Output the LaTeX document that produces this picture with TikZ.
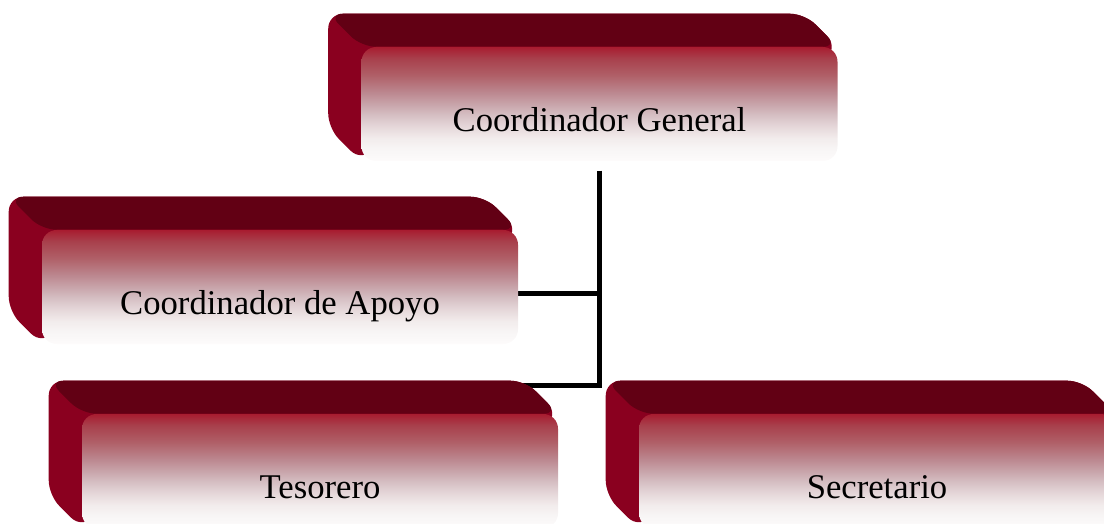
\documentclass[tikz,border=0pt]{standalone}
\usepackage{fontspec}
\setmainfont{Liberation Serif}
\usetikzlibrary{backgrounds}
\definecolor{techo}{HTML}{620014}
\definecolor{lado}{HTML}{8A001F}
\definecolor{caraA}{HTML}{A81C30}
\definecolor{caraB}{HTML}{A8404C}
\definecolor{caraC}{HTML}{B06068}
\definecolor{caraD}{HTML}{BC8890}
\definecolor{caraE}{HTML}{C8A4AA}
\definecolor{caraF}{HTML}{D6C0C4}
\definecolor{caraG}{HTML}{E6D8DA}
\definecolor{caraH}{HTML}{F2ECEC}
\definecolor{caraI}{HTML}{F8F6F6}
\definecolor{caraJ}{HTML}{FDFBFB}
\pgfdeclareverticalshading{cara}{100bp}{color(0bp)=(caraJ); color(25bp)=(caraJ);
    color(30bp)=(caraI); color(35bp)=(caraH); color(40bp)=(caraG); color(45bp)=(caraF);
    color(50bp)=(caraE); color(55bp)=(caraD); color(62.5bp)=(caraC); color(70bp)=(caraB);
    color(75bp)=(caraA); color(100bp)=(caraA)}
\begin{document}
\begin{tikzpicture}[x=0.75pt,y=0.75pt,
    cargo/.style={shade, shading=cara, rounded corners=11pt, minimum width=357pt,
        minimum height=85.5pt, text height=41pt, text depth=0pt,
        font=\fontsize{26}{31}\selectfont},
    enlace/.style={line width=3.4pt}]
    \useasboundingbox (0,0) rectangle (1104,-524);
    \clip (0,0) rectangle (1104,-524);
    \node[cargo] (gen) at (599.5,-104) {Coordinador General};
    \node[cargo] (apoyo) at (280,-287) {Coordinador de Apoyo};
    \node[cargo] (tes) at (320,-471) {Tesorero};
    \node[cargo] (sec) at (877,-471) {Secretario};
    \begin{pgfonlayer}{background}
    \coordinate (ramal) at ([yshift=-5]apoyo.east);
    \coordinate (bus) at ([yshift=21]tes.north -| gen.south);
    \draw[enlace] ([yshift=-7]gen.south) -- (bus) -- (bus -| tes.north);
    \draw[enlace] (ramal) -- (ramal -| gen.south);
    \foreach \n in {gen,apoyo,tes,sec}
    {
        \fill[lado, rounded corners=11pt] (\n.south west) -- ++(-33,33)
            |- ([shift={(-33,33)}]\n.north east) -- (\n.north east)
            -- ([shift={(-25,-25)}]\n.north east) -- ([shift={(25,25)}]\n.south west) -- cycle;
        \fill[techo, rounded corners=11pt] ([shift={(-33,33)}]\n.north west)
            -- ([shift={(-33,33)}]\n.north east) -- (\n.north east) -- (\n.north west) -- cycle;
    }
    \end{pgfonlayer}
\end{tikzpicture}
\end{document}
